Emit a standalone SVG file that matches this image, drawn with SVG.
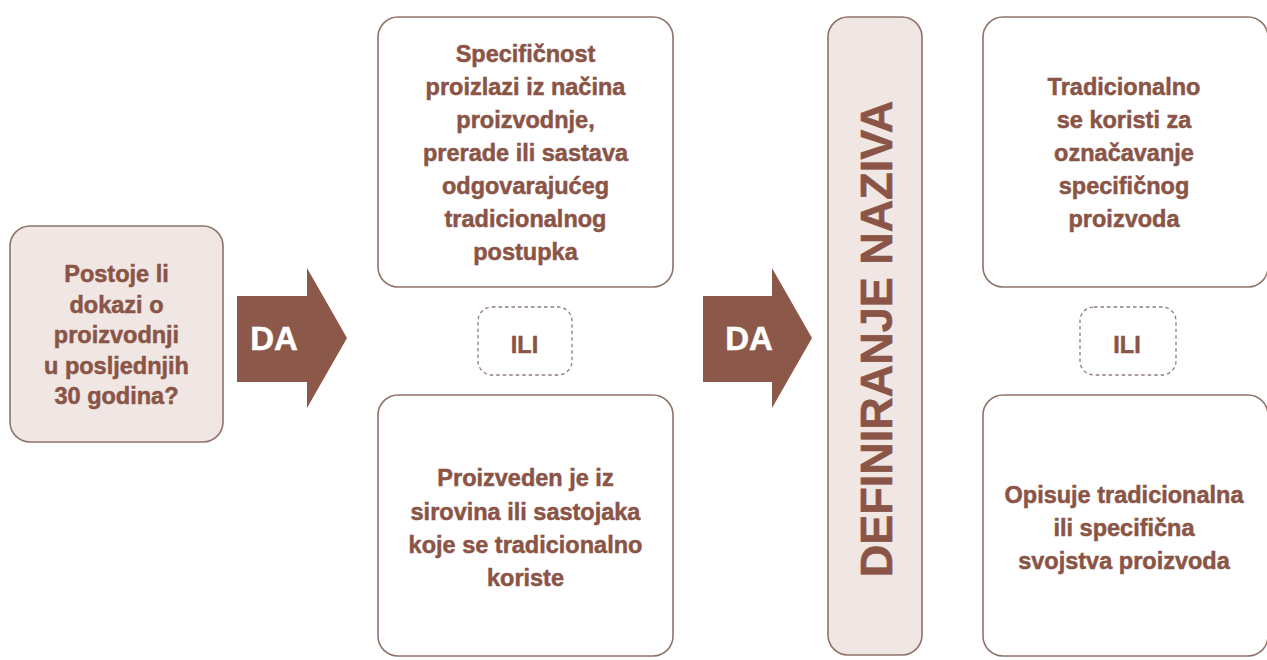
<svg xmlns="http://www.w3.org/2000/svg" width="1267" height="660" viewBox="0 0 1267 660">
  <style>
    .box { fill: #ffffff; stroke: #8e736b; stroke-width: 1.6; }
    .shade { fill: #f0e6e3; stroke: #8e736b; stroke-width: 1.6; }
    .ili { fill: #ffffff; stroke: #8e7d78; stroke-width: 1.3; stroke-dasharray: 3.5 3; }
    .arrow { fill: #8c5849; }
    .t { font-family: "Liberation Sans", Arial, sans-serif; font-weight: bold; font-size: 23.5px; fill: #8a5446; stroke: #8a5446; stroke-width: 0.5; text-anchor: middle; }
    .da { font-family: "Liberation Sans", Arial, sans-serif; font-weight: bold; font-size: 33px; fill: #ffffff; stroke: #ffffff; stroke-width: 0.5; text-anchor: middle; }
    .big { font-family: "Liberation Sans", Arial, sans-serif; font-weight: bold; font-size: 45px; fill: #8a5446; stroke: #8a5446; stroke-width: 0.6; text-anchor: middle; }
  </style>
  <rect width="1267" height="660" fill="#ffffff"/>

  <g id="connectors">
    <g id="arrow1">
      <polygon class="arrow" points="237,296 307,296 307,268 347,338 307,408 307,382 237,382"/>
      <text class="da" x="274" y="350">DA</text>
    </g>
    <g id="arrow2">
      <polygon class="arrow" points="703,296 772,296 772,268 812,338 772,408 772,382 703,382"/>
      <text class="da" x="749" y="350">DA</text>
    </g>
  </g>

  <g id="question">
    <rect class="shade" x="10" y="226" width="213" height="216" rx="20"/>
    <text class="t" x="116.5" y="282">Postoje li</text>
    <text class="t" x="116.5" y="312.5">dokazi o</text>
    <text class="t" x="116.5" y="343">proizvodnji</text>
    <text class="t" x="116.5" y="373.5">u posljednjih</text>
    <text class="t" x="116.5" y="404">30 godina?</text>
  </g>

  <g id="mid-top">
    <rect class="box" x="378" y="17" width="295" height="270" rx="20"/>
    <text class="t" x="525.5" y="62">Specifičnost</text>
    <text class="t" x="525.5" y="95">proizlazi iz načina</text>
    <text class="t" x="525.5" y="128">proizvodnje,</text>
    <text class="t" x="525.5" y="161">prerade ili sastava</text>
    <text class="t" x="525.5" y="194">odgovarajućeg</text>
    <text class="t" x="525.5" y="227">tradicionalnog</text>
    <text class="t" x="525.5" y="260">postupka</text>
  </g>

  <g id="mid-ili">
    <rect class="ili" x="478" y="307" width="94" height="68" rx="14"/>
    <text class="t" x="524.5" y="353">ILI</text>
  </g>

  <g id="mid-bottom">
    <rect class="box" x="378" y="395" width="295" height="261" rx="20"/>
    <text class="t" x="525.5" y="486">Proizveden je iz</text>
    <text class="t" x="525.5" y="519.5">sirovina ili sastojaka</text>
    <text class="t" x="525.5" y="553">koje se tradicionalno</text>
    <text class="t" x="525.5" y="586">koriste</text>
  </g>

  <g id="definiranje">
    <rect class="shade" x="828" y="17" width="94" height="638" rx="20"/>
    <text class="big" transform="translate(892,339) rotate(-90)" x="0" y="0">DEFINIRANJE NAZIVA</text>
  </g>

  <g id="right-top">
    <rect class="box" x="983" y="17" width="285" height="270" rx="20"/>
    <text class="t" x="1124" y="95">Tradicionalno</text>
    <text class="t" x="1124" y="128">se koristi za</text>
    <text class="t" x="1124" y="161">označavanje</text>
    <text class="t" x="1124" y="194">specifičnog</text>
    <text class="t" x="1124" y="227">proizvoda</text>
  </g>

  <g id="right-ili">
    <rect class="ili" x="1080" y="307" width="96" height="68" rx="14"/>
    <text class="t" x="1127" y="353">ILI</text>
  </g>

  <g id="right-bottom">
    <rect class="box" x="983" y="395" width="285" height="261" rx="20"/>
    <text class="t" x="1124" y="503">Opisuje tradicionalna</text>
    <text class="t" x="1124" y="536">ili specifična</text>
    <text class="t" x="1124" y="569">svojstva proizvoda</text>
  </g>
</svg>
